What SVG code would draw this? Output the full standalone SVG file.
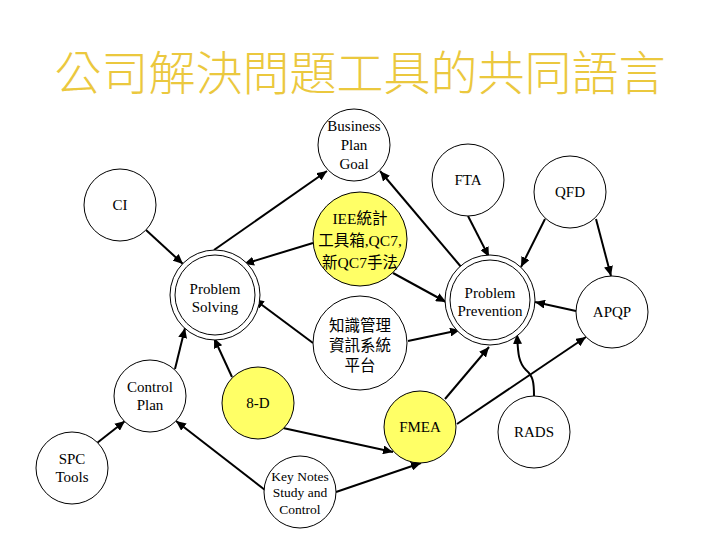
<svg xmlns="http://www.w3.org/2000/svg" width="720" height="540" viewBox="0 0 720 540">
<style>
.n{fill:#fff;stroke:#000;stroke-width:1}
.y{fill:#FFFF66;stroke:#000;stroke-width:1}
text{font-family:'Liberation Serif','Times New Roman','DejaVu Serif','Noto Sans CJK TC',serif;fill:#000;text-anchor:middle}
.t{font-size:15px}
.c{font-size:15.5px}
.k{font-size:13.5px}
.e{fill:none;stroke:#000;stroke-width:2;marker-end:url(#a)}
.title{font-family:'Noto Sans CJK TC','Noto Sans CJK SC',sans-serif;font-size:47px;font-weight:300;fill:#EBC83E}
</style>
<defs>
<marker id="a" markerUnits="userSpaceOnUse" markerWidth="11" markerHeight="9" refX="10" refY="4.5" orient="auto">
<path d="M0,0 L10,4.5 L0,9 z" fill="#000"/>
</marker>
</defs>
<rect width="720" height="540" fill="#fff"/>
<text class="title" x="360" y="90">公司解決問題工具的共同語言</text>

<g id="connectors">
<line class="e" x1="146" y1="230" x2="183" y2="264"/>
<line class="e" x1="214" y1="250" x2="327" y2="171"/>
<line class="e" x1="462" y1="268" x2="380" y2="171"/>
<line class="e" x1="313" y1="243" x2="244" y2="264"/>
<line class="e" x1="393" y1="273" x2="446" y2="302"/>
<line class="e" x1="468" y1="216" x2="489" y2="257"/>
<line class="e" x1="545" y1="219" x2="521" y2="267"/>
<line class="e" x1="596" y1="219" x2="611" y2="276"/>
<line class="e" x1="576" y1="311" x2="535" y2="302"/>
<line class="e" x1="313" y1="343" x2="254" y2="299"/>
<line class="e" x1="408" y1="341" x2="460" y2="330"/>
<line class="e" x1="175" y1="369" x2="185" y2="328"/>
<line class="e" x1="232" y1="377" x2="214" y2="338"/>
<line class="e" x1="97" y1="443" x2="125" y2="421"/>
<line class="e" x1="265" y1="490" x2="176" y2="421"/>
<line class="e" x1="283" y1="428" x2="393" y2="452"/>
<line class="e" x1="336" y1="492" x2="421" y2="463"/>
<line class="e" x1="445" y1="399" x2="489" y2="347"/>
<line class="e" x1="457" y1="424" x2="586" y2="337"/>
<path class="e" d="M534,396 C534,382 533,376 526,370 C518,362 518,352 517,334"/>
</g>

<g id="business">
<circle class="n" cx="354" cy="145" r="36"/>
<text class="t" x="354" y="131">Business</text>
<text class="t" x="354" y="150">Plan</text>
<text class="t" x="354" y="169">Goal</text>
</g>
<g id="ci">
<circle class="n" cx="120" cy="205" r="36"/>
<text class="t" x="120" y="210">CI</text>
</g>
<g id="fta">
<circle class="n" cx="468" cy="180" r="36"/>
<text class="t" x="468" y="185">FTA</text>
</g>
<g id="qfd">
<circle class="n" cx="570" cy="192" r="36"/>
<text class="t" x="570" y="197">QFD</text>
</g>
<g id="iee">
<circle class="y" cx="360" cy="239" r="47"/>
<text class="c" x="360" y="224">IEE統計</text>
<text class="c" x="360" y="246">工具箱,QC7,</text>
<text class="c" x="360" y="268">新QC7手法</text>
</g>
<g id="problem-solving">
<circle class="n" cx="215" cy="295" r="45"/>
<circle class="n" cx="215" cy="295" r="40"/>
<text class="t" x="215" y="294">Problem</text>
<text class="t" x="215" y="312">Solving</text>
</g>
<g id="problem-prevention">
<circle class="n" cx="490" cy="300" r="45"/>
<circle class="n" cx="490" cy="300" r="40"/>
<text class="t" x="490" y="298">Problem</text>
<text class="t" x="490" y="316">Prevention</text>
</g>
<g id="apqp">
<circle class="n" cx="612" cy="312" r="36"/>
<text class="t" x="612" y="317">APQP</text>
</g>
<g id="km">
<circle class="n" cx="360" cy="343" r="47"/>
<text class="c" x="360" y="331">知識管理</text>
<text class="c" x="360" y="351">資訊系統</text>
<text class="c" x="360" y="371">平台</text>
</g>
<g id="control-plan">
<circle class="n" cx="150" cy="396" r="36"/>
<text class="t" x="150" y="392">Control</text>
<text class="t" x="150" y="410">Plan</text>
</g>
<g id="spc">
<circle class="n" cx="72" cy="468" r="36"/>
<text class="t" x="72" y="464">SPC</text>
<text class="t" x="72" y="482">Tools</text>
</g>
<g id="eight-d">
<circle class="y" cx="258" cy="403" r="36"/>
<text class="t" x="258" y="408">8-D</text>
</g>
<g id="fmea">
<circle class="y" cx="420" cy="427" r="36"/>
<text class="t" x="420" y="432">FMEA</text>
</g>
<g id="rads">
<circle class="n" cx="534" cy="432" r="36"/>
<text class="t" x="534" y="437">RADS</text>
</g>
<g id="key-notes">
<circle class="n" cx="300" cy="492" r="36"/>
<text class="k" x="300" y="481">Key Notes</text>
<text class="k" x="300" y="497">Study and</text>
<text class="k" x="300" y="514">Control</text>
</g>
</svg>
